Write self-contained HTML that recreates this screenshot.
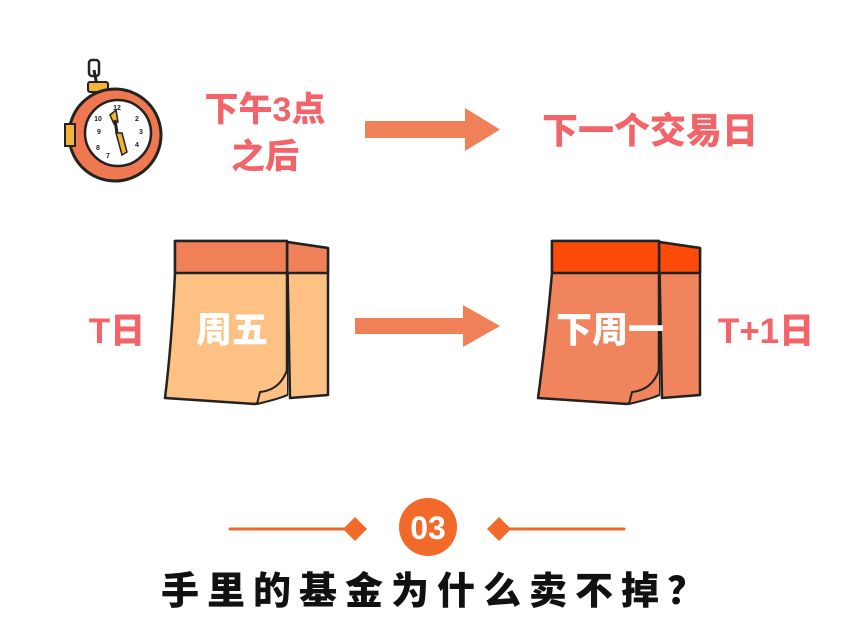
<!DOCTYPE html>
<html><head><meta charset="utf-8"><style>
html,body{margin:0;padding:0;background:#fff;width:865px;height:644px;overflow:hidden}
svg{display:block}
text{font-family:"Liberation Sans","Noto Sans CJK SC",sans-serif;font-weight:900}
</style></head><body>
<svg width="865" height="644" viewBox="0 0 865 644">
<rect x="89" y="60" width="10" height="16" rx="3" fill="none" stroke="#222" stroke-width="2.5"/>
<line x1="94" y1="70" x2="97" y2="86" stroke="#222" stroke-width="3"/>
<rect x="88" y="82" width="20" height="10" rx="2" fill="#f3b23a" stroke="#222" stroke-width="2"/>
<circle cx="115" cy="135" r="46" fill="#f07850" stroke="#222" stroke-width="3"/>
<circle cx="118" cy="133" r="33" fill="#fff" stroke="#222" stroke-width="2.5"/>
<rect x="65" y="124" width="10" height="22" fill="#f3b23a" stroke="#222" stroke-width="2"/>
<polygon points="110,115 116,110 118,122 114,124" fill="#f3b23a" stroke="#222" stroke-width="1.5"/>
<line x1="115" y1="120" x2="117" y2="133" stroke="#222" stroke-width="3"/>
<polygon points="116,133 122,133 127,152 122,155" fill="#f3b23a" stroke="#222" stroke-width="1.5"/>
<g font-size="7" fill="#222" text-anchor="middle"><text x="117" y="110">12</text><text x="137" y="121">2</text><text x="141" y="134">3</text><text x="137" y="147">4</text><text x="99" y="134">9</text><text x="98" y="121">10</text><text x="108" y="158">7</text><text x="98" y="150">8</text></g>
<text x="265" y="121" font-size="34" fill="#f2646a" text-anchor="middle">下午3点</text>
<text x="265" y="168" font-size="34" fill="#f2646a" text-anchor="middle">之后</text>
<rect x="365" y="121" width="102" height="17" fill="#f08058"/>
<polygon points="465,108 500,129.5 465,151" fill="#f08058"/>
<text x="650" y="143" font-size="36" fill="#f2646a" text-anchor="middle">下一个交易日</text>
<g stroke="#222" stroke-width="2.5" stroke-linejoin="round">
<path d="M287,242 L328,248 L328,395 L290,398 Z" fill="#fdc184"/>
<path d="M287,242 L328,248 L328,273 L287,273 Z" fill="#f08058"/>
<path d="M175,241 L287,241 L287,395 Q270,398 255,404 L165,398 Q172,340 175,273 Z" fill="#fdc184"/>
<path d="M175,241 L287,241 L287,273 L175,273 Z" fill="#f08058"/>
<path d="M287,370 Q280,390 260,392 L257,404 Q282,398 287,395" fill="#fdc184" stroke-width="2"/>
</g>
<text x="232" y="342" font-size="36" fill="#fff" text-anchor="middle">周五</text>
<rect x="355" y="318" width="112" height="16" fill="#f08058"/>
<polygon points="463,305 500,326 463,347" fill="#f08058"/>
<g stroke="#222" stroke-width="2.5" stroke-linejoin="round">
<path d="M659,242 L700,248 L700,395 L662,398 Z" fill="#f0845c"/>
<path d="M659,242 L700,248 L700,273 L659,273 Z" fill="#fc4a0a"/>
<path d="M552,241 L659,241 L659,395 Q642,398 627,404 L538,398 Q546,340 552,273 Z" fill="#f0845c"/>
<path d="M552,241 L659,241 L659,273 L552,273 Z" fill="#fc4a0a"/>
<path d="M659,370 Q652,390 632,392 L629,404 Q654,398 659,395" fill="#f0845c" stroke-width="2"/>
</g>
<text x="610" y="342" font-size="36" fill="#fff" text-anchor="middle">下周一</text>
<text x="117" y="343" font-size="35" fill="#f2646a" text-anchor="middle">T日</text>
<text x="766" y="343" font-size="35" fill="#f2646a" text-anchor="middle">T+1日</text>
<line x1="230" y1="529" x2="350" y2="529" stroke="#f26a2a" stroke-width="3" stroke-linecap="round"/>
<polygon points="343,529 355,517 367,529 355,541" fill="#f26a2a"/>
<line x1="505" y1="529" x2="624" y2="529" stroke="#f26a2a" stroke-width="3" stroke-linecap="round"/>
<polygon points="487,529 499,517 511,529 499,541" fill="#f26a2a"/>
<circle cx="428" cy="527" r="29" fill="#f26a2a"/>
<text x="428" y="539" font-size="32" fill="#fff" text-anchor="middle">03</text>
<text x="437" y="604" font-size="38" fill="#111" text-anchor="middle" letter-spacing="8">手里的基金为什么卖不掉？</text>
</svg>
</body></html>
